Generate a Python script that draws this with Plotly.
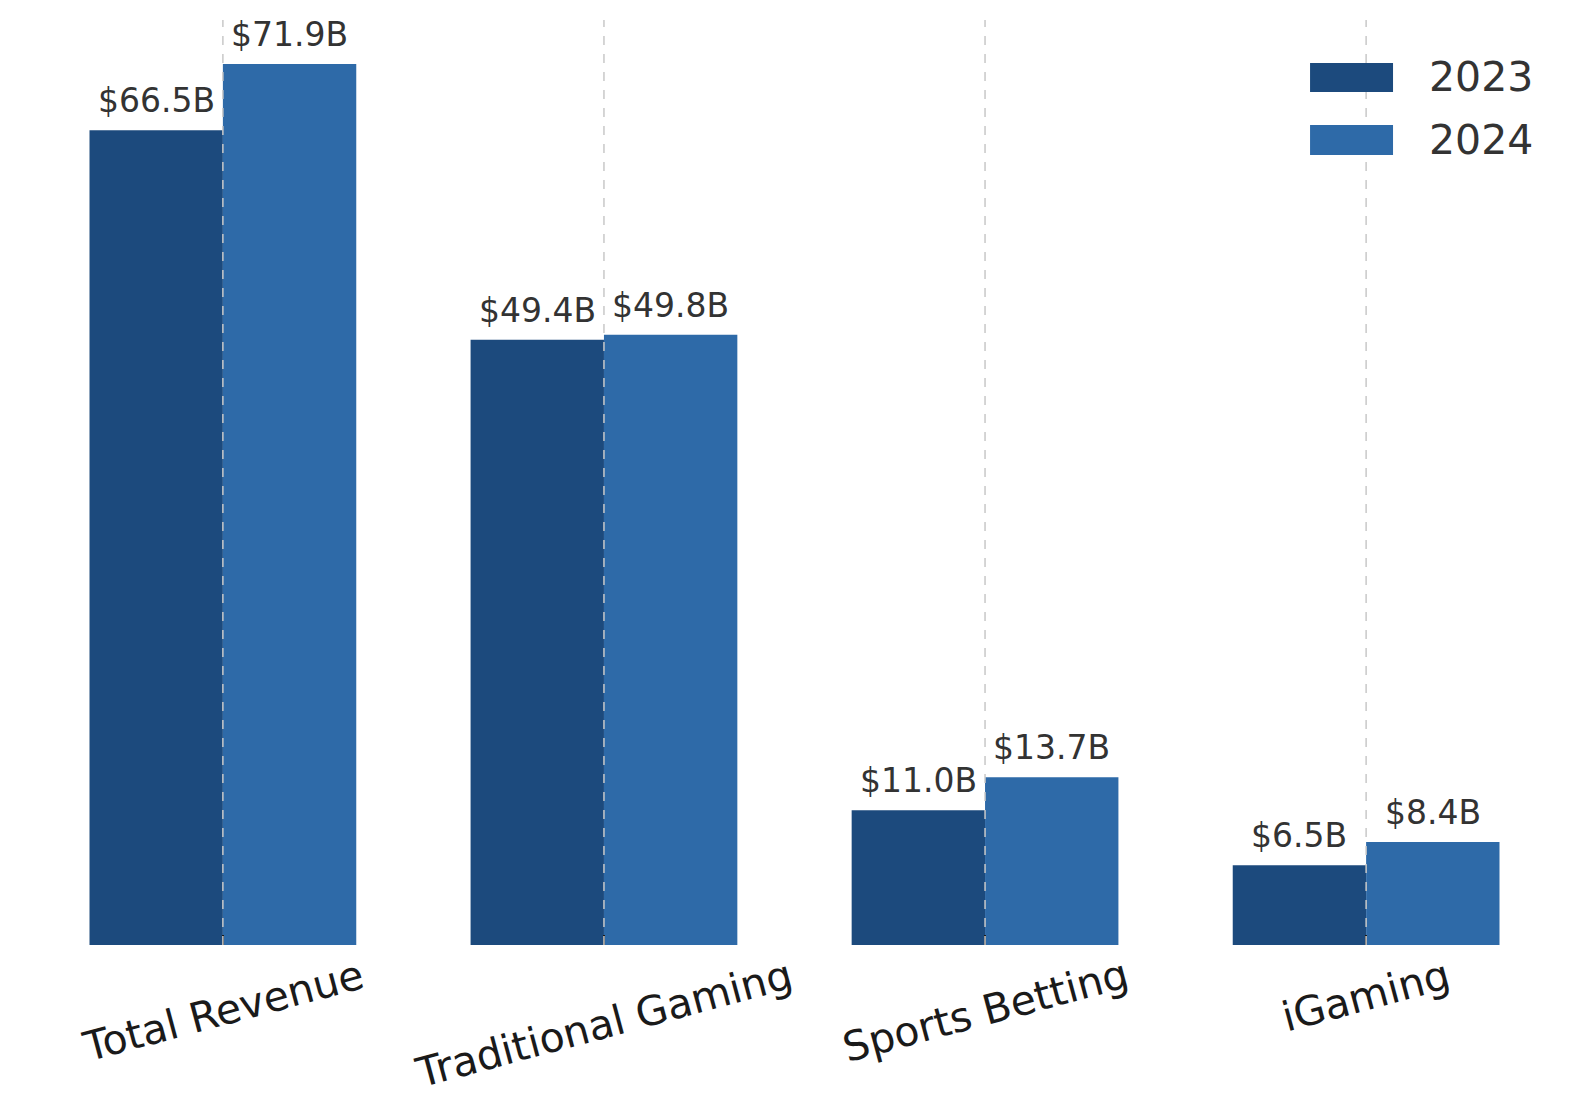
import plotly.graph_objects as go

# data
categories = ["Total Revenue", "Traditional Gaming", "Sports Betting", "iGaming"]
years = ["2023", "2024"]
rev_2023 = [66.5, 49.4, 11.0, 6.5]
rev_2024 = [71.9, 49.8, 13.7, 8.4]

colors = ["#1c4a7d", "#2e6aa8"]
font_family = "DejaVu Sans"
bar_w = 0.35

fig = go.Figure()
series = [rev_2023, rev_2024]
for k in range(len(years)):
    fig.add_trace(go.Bar(
        x=categories, y=series[k], name=years[k],
        marker=dict(color=colors[k], line=dict(width=0)),
        showlegend=False,
    ))

# value labels above each bar
for k in range(len(years)):
    offset = (k - 0.5) * bar_w
    for i, v in enumerate(series[k]):
        fig.add_annotation(
            x=i + offset, y=v, xref="x", yref="y",
            text=f"${v:.1f}B", showarrow=False,
            xanchor="center", yanchor="bottom", yshift=8,
            font=dict(family=font_family, size=33, color="#333333"),
        )

# category labels, rotated and centred under the ticks
for i, cat in enumerate(categories):
    fig.add_annotation(
        x=i, y=-0.003, xref="x", yref="paper",
        text=cat, showarrow=False, textangle=-15,
        xanchor="center", yanchor="top",
        font=dict(family=font_family, size=41, color="#1a1a1a"),
    )

# dashed vertical grid at the category centres (drawn over the bars)
for i in range(len(categories)):
    fig.add_shape(
        type="line", xref="x", yref="paper", x0=i, x1=i, y0=0, y1=1,
        line=dict(color="#c8c8c8", width=1.5, dash="dash"), layer="above",
    )

# legend drawn by hand to get the large keys
legend_y = [(0.9222, 0.9535), (0.8541, 0.8865)]
for k in range(len(years)):
    y0, y1 = legend_y[k]
    fig.add_shape(
        type="rect", xref="paper", yref="paper",
        x0=0.8324, x1=0.8859, y0=y0, y1=y1,
        fillcolor=colors[k], line=dict(width=0), layer="above",
    )
    fig.add_annotation(
        x=0.9075, y=(y0 + y1) / 2, xref="paper", yref="paper",
        text=years[k], showarrow=False, xanchor="left", yanchor="middle",
        font=dict(family=font_family, size=41, color="#333333"),
    )

ymax = max(rev_2023 + rev_2024) * 1.05

# page body adds an 8px offset, so margins are shifted to compensate
fig.update_layout(
    width=1589, height=1117,
    margin=dict(l=11, r=27, t=12, b=180),
    barmode="group", bargap=1 - 2 * bar_w, bargroupgap=0,
    plot_bgcolor="white", paper_bgcolor="white",
    font=dict(family=font_family),
    showlegend=False,
)
fig.update_xaxes(
    range=[-0.535, len(categories) - 1 + 0.535],
    showgrid=False, showline=False, zeroline=False,
    showticklabels=False,
    ticks="inside", ticklen=10, tickwidth=1.5, tickcolor="#1a1a1a",
)
fig.update_yaxes(
    range=[0, ymax], visible=False, showgrid=False, zeroline=False,
)

fig.write_html("out.html")
